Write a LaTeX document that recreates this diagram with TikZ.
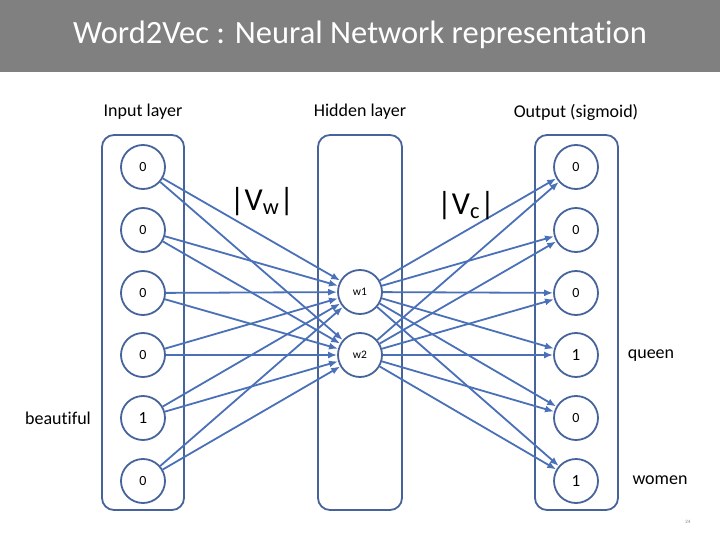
\documentclass[tikz,border=0pt]{standalone}
\usepackage{fontspec}
\setmainfont{Carlito}[Ligatures={NoCommon}]
\usetikzlibrary{arrows.meta}
\definecolor{titlegray}{RGB}{128,128,128}
\definecolor{shapeblue}{RGB}{70,100,155}
\definecolor{linkblue}{RGB}{74,112,184}
\begin{document}
\begin{tikzpicture}[x=1pt,y=-1pt,
  layerbox/.style={draw=shapeblue,line width=1.8pt,rounded corners=12pt},
  unit/.style={circle,draw=shapeblue,line width=1.8pt,minimum size=44pt,inner sep=0pt,font=\fontsize{14}{14}\selectfont},
  lab/.style={font=\fontsize{18}{18}\selectfont},
  link/.style={draw=linkblue,line width=1.8pt,-{Latex[length=9pt,width=7pt]}}]
\useasboundingbox (0,0) rectangle (720,540);
\fill[titlegray] (0,0) rectangle (720,72);
\node[text=white,font=\fontsize{32.5}{32.5}\selectfont] (title) at (360,35) {Word2Vec : Neural Network representation};
% layer boxes
\draw[layerbox] (102,135) rectangle (184,510);
\draw[layerbox] (318,135) rectangle (402,510);
\draw[layerbox] (535,135) rectangle (618,510);
% labels
\node[lab] (lin) at (143,112) {Input layer};
\node[lab] (lhid) at (360,112) {Hidden layer};
\node[lab] (lout) at (576,112) {Output (sigmoid)};
% input units
\node[unit] (i1) at (143,167) {0};
\node[unit] (i2) at (143,230) {0};
\node[unit] (i3) at (143,293) {0};
\node[unit] (i4) at (143,355) {0};
\node[unit,font=\fontsize{17}{17}\selectfont] (i5) at (143,418) {1};
\node[unit] (i6) at (143,481) {0};
% hidden units
\node[unit,font=\fontsize{11.5}{11.5}\selectfont] (w1) at (360,292) {w1};
\node[unit,font=\fontsize{11.5}{11.5}\selectfont] (w2) at (360,355) {w2};
% output units
\node[unit] (o1) at (576,167) {0};
\node[unit] (o2) at (576,230) {0};
\node[unit] (o3) at (576,293) {0};
\node[unit,font=\fontsize{17}{17}\selectfont] (o4) at (576,355) {1};
\node[unit] (o5) at (576,418) {0};
\node[unit,font=\fontsize{17}{17}\selectfont] (o6) at (576,481) {1};
% links
\foreach \i in {i1,i2,i3,i4,i5,i6}{
  \draw[link] (\i) -- (w1);
  \draw[link] (\i) -- (w2);
}
\foreach \o in {o1,o2,o3,o4,o5,o6}{
  \draw[link] (w1) -- (\o);
  \draw[link] (w2) -- (\o);
}
% word labels
\node[lab] (beau) at (58,418) {beautiful};
\node[lab] (queen) at (651,356) {queen};
\node[lab] (women) at (660,480) {women};
\node[font=\fontsize{32}{32}\selectfont] (vw) at (262,202) {|V\textsubscript{w}|};
\node[font=\fontsize{32}{32}\selectfont] (vc) at (466,206) {|V\textsubscript{c}|};
\node[font=\fontsize{5}{5}\selectfont,text=gray] (pg) at (688,522) {24};
\end{tikzpicture}
\end{document}
